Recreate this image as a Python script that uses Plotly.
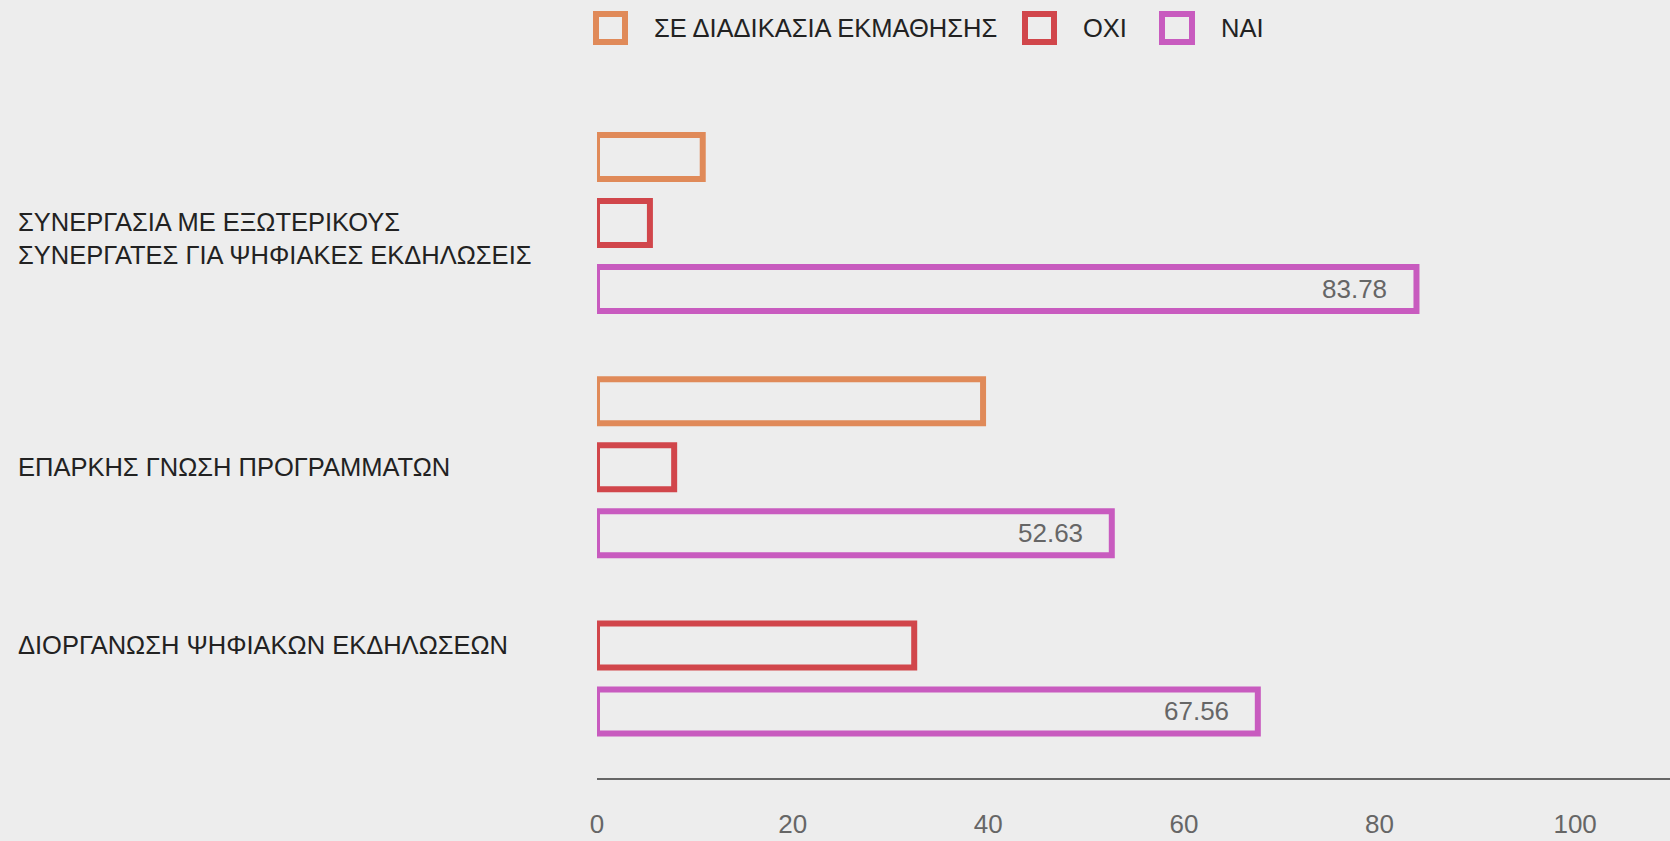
import plotly.graph_objects as go

# ---------------- data ----------------
categories = [
    "ΣΥΝΕΡΓΑΣΙΑ ΜΕ ΕΞΩΤΕΡΙΚΟΥΣ<br>ΣΥΝΕΡΓΑΤΕΣ ΓΙΑ ΨΗΦΙΑΚΕΣ ΕΚΔΗΛΩΣΕΙΣ",
    "ΕΠΑΡΚΗΣ ΓΝΩΣΗ ΠΡΟΓΡΑΜΜΑΤΩΝ",
    "ΔΙΟΡΓΑΝΩΣΗ ΨΗΦΙΑΚΩΝ ΕΚΔΗΛΩΣΕΩΝ",
]
series_names = ["ΣΕ ΔΙΑΔΙΚΑΣΙΑ ΕΚΜΑΘΗΣΗΣ", "ΟΧΙ", "ΝΑΙ"]
learning = [10.81, 39.47, None]
no_vals = [5.41, 7.89, 32.43]
yes_vals = [83.78, 52.63, 67.56]
x_ticks = [0, 20, 40, 60, 80, 100]

series_values = [learning, no_vals, yes_vals]
colors = ["#E08A59", "#D1464B", "#C85BBF"]
labelled_series = 2  # only "ΝΑΙ" shows values
anchor_series = 1    # category label aligned with the middle series slot

# ---------------- layout helpers ----------------
W, H = 1670, 841
ML, MR, MT, MB = 597, 0, 60, 63
PW, PH = W - ML - MR, H - MT - MB
PITCH = 66.0          # px per bar slot
FIRST_CENTER = 157.0  # px of first bar centre
GROUP_GAP = 0.70      # extra slots between groups
BAR_W = 0.667
LABEL_SIZE = 25.5
LINE_H = 31           # px between label lines

def px_x(px):
    return (px - ML) / PW

def px_y(py):
    return (H - MB - py) / PH

# slot positions for bars (skip missing values)
positions = [[None] * len(categories) for _ in series_values]
slot = 0.0
label_pos = []
for gi in range(len(categories)):
    used = []
    for si, vals in enumerate(series_values):
        if vals[gi] is not None:
            positions[si][gi] = slot
            used.append(slot)
            slot += 1
    anchor = positions[anchor_series][gi]
    label_pos.append(anchor if anchor is not None else sum(used) / len(used))
    slot += GROUP_GAP

fig = go.Figure()
for si, vals in enumerate(series_values):
    fig.add_trace(go.Bar(
        x=vals, y=positions[si], orientation="h", width=BAR_W,
        name=series_names[si],
        marker=dict(color="rgba(0,0,0,0)", line=dict(color=colors[si], width=6)),
        showlegend=False, hoverinfo="x",
    ))

annotations = []
# value labels
for gi, v in enumerate(series_values[labelled_series]):
    if v is None:
        continue
    annotations.append(dict(
        x=v, y=positions[labelled_series][gi], xref="x", yref="y",
        text=f"{v:.2f}", showarrow=False, xanchor="right", yanchor="middle",
        xshift=-27, font=dict(size=26, color="#666666"),
    ))
# category labels (first line centred on the anchor slot)
for gi, cat in enumerate(categories):
    n_lines = cat.count("<br>") + 1
    annotations.append(dict(
        x=px_x(16), y=label_pos[gi], xref="paper", yref="y",
        text=cat, showarrow=False, xanchor="left", yanchor="middle", align="left",
        yshift=-(n_lines - 1) * LINE_H / 2,
        font=dict(size=LABEL_SIZE, color="#222222"),
    ))

# custom legend (large open squares)
legend_boxes = [(596, 625, 652), (1025, 1054, 1081), (1162, 1192, 1219)]
shapes = []
for si, (x0, x1, tx) in enumerate(legend_boxes):
    shapes.append(dict(
        type="rect", xref="paper", yref="paper",
        x0=px_x(x0), x1=px_x(x1), y0=px_y(42), y1=px_y(14),
        line=dict(color=colors[si], width=6), fillcolor="rgba(0,0,0,0)",
    ))
    annotations.append(dict(
        x=px_x(tx), y=px_y(28), xref="paper", yref="paper",
        text=series_names[si], showarrow=False, xanchor="left", yanchor="middle",
        font=dict(size=LABEL_SIZE, color="#222222"),
    ))

y_bottom = (H - MB - FIRST_CENTER) / PITCH
y_top = (MT - FIRST_CENTER) / PITCH

fig.update_layout(
    width=W, height=H,
    margin=dict(l=ML, r=MR, t=MT, b=MB),
    paper_bgcolor="#EDEDED", plot_bgcolor="#EDEDED",
    font=dict(family="Liberation Sans, Arial, sans-serif", color="#222222"),
    barmode="overlay",
    xaxis=dict(
        range=[0, 109.7], tickvals=x_ticks, ticks="", showgrid=False, zeroline=False,
        showline=True, linecolor="#666666", linewidth=2,
        tickfont=dict(size=26, color="#666666"), ticklabelstandoff=22,
    ),
    yaxis=dict(range=[y_bottom, y_top], visible=False, showgrid=False, zeroline=False),
    annotations=annotations, shapes=shapes,
)

fig.write_html("out.html", config={"displayModeBar": False},
               post_script="document.body.style.margin='0';")
